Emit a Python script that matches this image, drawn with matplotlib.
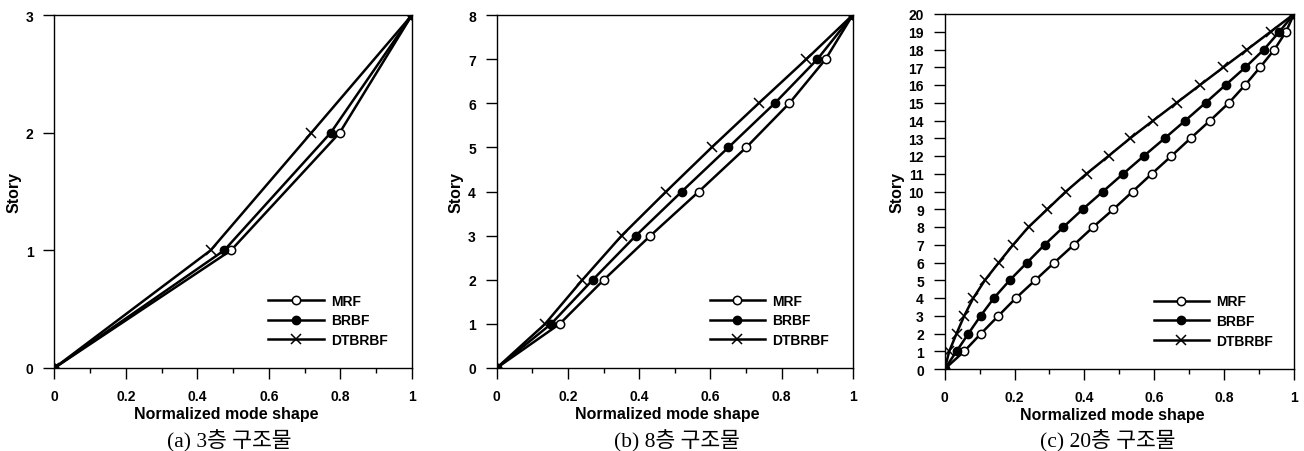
import matplotlib.pyplot as plt
import numpy as np
from matplotlib.ticker import MultipleLocator

# 3층 구조물
stories3 = [0, 1, 2, 3]
mrf3 = [0, 0.494, 0.798, 1.0]
brbf3 = [0, 0.475, 0.773, 1.0]
dtbrbf3 = [0, 0.437, 0.719, 1.0]

# 8층 구조물
stories8 = [0, 1, 2, 3, 4, 5, 6, 7, 8]
mrf8 = [0, 0.177, 0.301, 0.432, 0.568, 0.701, 0.822, 0.924, 1.0]
brbf8 = [0, 0.153, 0.270, 0.391, 0.520, 0.651, 0.781, 0.901, 1.0]
dtbrbf8 = [0, 0.136, 0.241, 0.351, 0.476, 0.604, 0.736, 0.870, 1.0]

# 20층 구조물
stories20 = list(range(21))
mrf20 = [0, 0.056, 0.104, 0.154, 0.204, 0.259, 0.314, 0.370, 0.425, 0.483, 0.538,
         0.593, 0.649, 0.704, 0.760, 0.814, 0.860, 0.903, 0.944, 0.977, 1.0]
brbf20 = [0, 0.034, 0.068, 0.103, 0.141, 0.186, 0.236, 0.286, 0.340, 0.395, 0.453,
          0.511, 0.570, 0.630, 0.689, 0.747, 0.804, 0.861, 0.914, 0.958, 1.0]
dtbrbf20 = [0, 0.013, 0.034, 0.056, 0.082, 0.115, 0.155, 0.196, 0.240, 0.294, 0.347,
            0.406, 0.469, 0.531, 0.597, 0.664, 0.731, 0.798, 0.866, 0.933, 1.0]

captions = ["(a) 3층 구조물", "(b) 8층 구조물", "(c) 20층 구조물"]

bold = dict(family="Liberation Sans", weight="bold")

fig = plt.figure(figsize=(13.04, 4.52), dpi=100)

# axes rectangles in figure fractions
rects = [
    [54.3 / 1304, 1 - 369 / 452, 357.7 / 1304, 353 / 452],
    [496.7 / 1304, 1 - 369 / 452, 356 / 1304, 353 / 452],
    [944.7 / 1304, 1 - 370 / 452, 349.3 / 1304, 355 / 452],
]
caption_x = [229 / 1304, 677 / 1304, 1108 / 1304]

datasets = [
    (stories3, mrf3, brbf3, dtbrbf3),
    (stories8, mrf8, brbf8, dtbrbf8),
    (stories20, mrf20, brbf20, dtbrbf20),
]

for i, (st, mrf, brbf, dt) in enumerate(datasets):
    ax = fig.add_axes(rects[i])
    ax.plot(mrf, st, color="black", lw=1.8, marker="o", ms=6, mfc="white",
            mec="black", mew=1.1, label="MRF")
    ax.plot(brbf, st, color="black", lw=1.8, marker="o", ms=6, mfc="black",
            mec="black", label="BRBF")
    ax.plot(dt, st, color="black", lw=1.8, marker="x", ms=7, mew=1.1,
            label="DTBRBF")

    nmax = st[-1]
    ax.set_xlim(0, 1)
    ax.set_ylim(0, nmax)
    ax.set_xticks([0, 0.2, 0.4, 0.6, 0.8, 1.0])
    ax.set_xticklabels(["0", "0.2", "0.4", "0.6", "0.8", "1"])
    ax.xaxis.set_minor_locator(MultipleLocator(0.1))
    ax.set_yticks(st)
    ax.set_yticklabels([str(s) for s in st])
    ax.tick_params(axis="both", which="major", direction="out", length=8,
                   width=1.0, pad=7)
    ax.tick_params(axis="x", which="minor", direction="out", length=3.5, width=1.0)
    for lab in ax.get_xticklabels() + ax.get_yticklabels():
        lab.set_fontfamily("Liberation Sans")
        lab.set_fontweight("bold")
        lab.set_fontsize(10)
    for sp in ax.spines.values():
        sp.set_linewidth(1.0)

    ax.set_xlabel("Normalized mode shape", fontsize=11.5, labelpad=2, **bold)
    ax.xaxis.label.set_x(0.48)
    ax.set_ylabel("Story", fontsize=11.5, labelpad=3, **bold)

    ax.legend(loc="upper left", bbox_to_anchor=(0.598, 0.21), frameon=False,
              prop=dict(family="Liberation Sans", weight="bold", size=10),
              handlelength=4.0, handletextpad=0.5, labelspacing=0.4,
              borderpad=0, borderaxespad=0, numpoints=1)

    fig.text(caption_x[i], 1 - 441 / 452, captions[i], ha="center", va="center",
             fontsize=15.5, family=["Liberation Serif", "Noto Sans CJK KR"])

fig.savefig("out.png", dpi=100)
